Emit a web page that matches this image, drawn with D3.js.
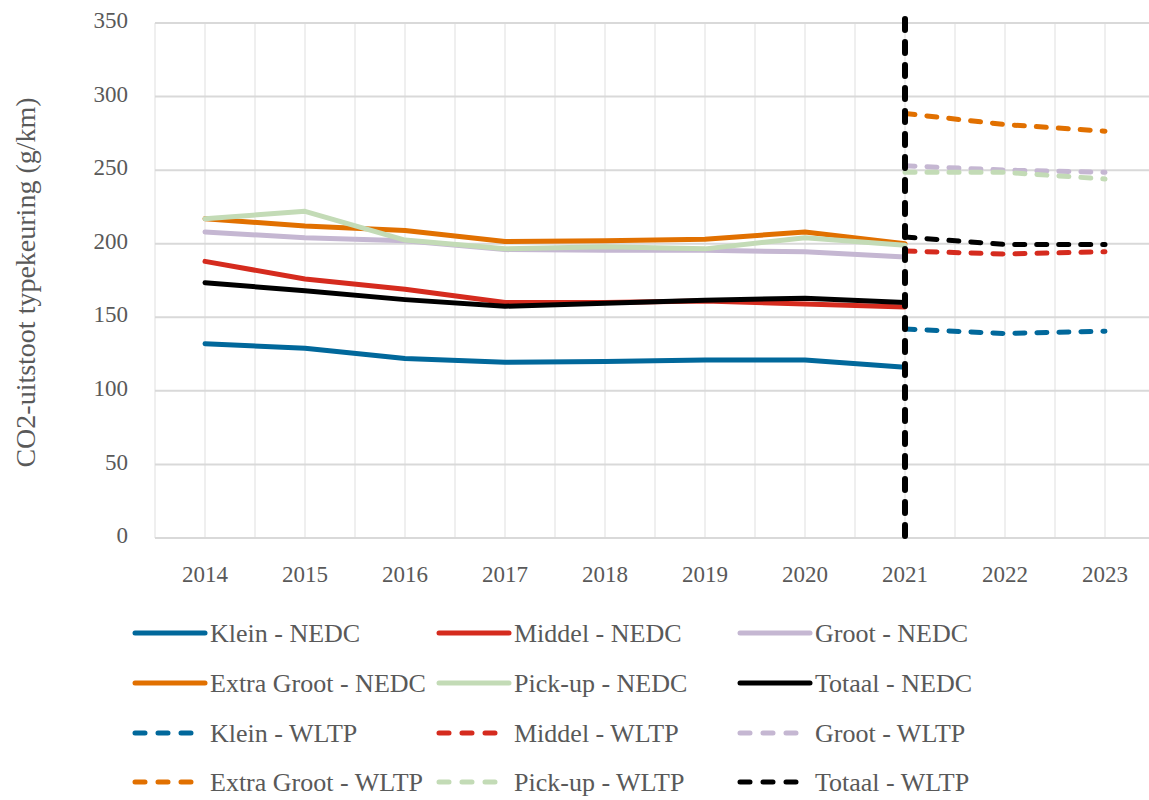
<!DOCTYPE html>
<html>
<head>
<meta charset="utf-8">
<script src="https://cdn.jsdelivr.net/npm/d3@7"></script>
<style>
  body { margin: 0; background: #fff; }
  text { font-family: "Liberation Serif", "DejaVu Serif", serif; fill: #595959; }
</style>
</head>
<body>
<svg width="1149" height="800"></svg>
<script>
// data
var years = ["2014","2015","2016","2017","2018","2019","2020","2021","2022","2023"];
var nedcYears = ["2014","2015","2016","2017","2018","2019","2020","2021"];
var wltpYears = ["2021","2022","2023"];

var kleinNEDC      = [132, 129, 122, 119.5, 120, 121, 121, 116];
var middelNEDC     = [188, 176, 169, 160, 160, 161, 159, 157];
var grootNEDC      = [208, 204, 202, 196, 195.5, 195.5, 194.5, 191];
var extraGrootNEDC = [217, 212, 209, 201.5, 202, 203, 208, 200];
var pickupNEDC     = [217, 222, 202.5, 196.5, 198, 196.5, 204, 199];
var totaalNEDC     = [173.5, 168, 162, 157.5, 159.5, 161.5, 163, 160];

var kleinWLTP      = [142, 139, 140.5];
var middelWLTP     = [195, 193, 194.5];
var grootWLTP      = [253, 250, 248.5];
var extraGrootWLTP = [288.5, 281, 276.5];
var pickupWLTP     = [248.5, 248.5, 244];
var totaalWLTP     = [204.5, 199.5, 199.5];

var yTicks = [0, 50, 100, 150, 200, 250, 300, 350];

var series = [
  {name: "Klein - NEDC", x: nedcYears, v: kleinNEDC, color: "#01689b", dash: false},
  {name: "Middel - NEDC", x: nedcYears, v: middelNEDC, color: "#d52b1e", dash: false},
  {name: "Groot - NEDC", x: nedcYears, v: grootNEDC, color: "#c5b7d2", dash: false},
  {name: "Extra Groot - NEDC", x: nedcYears, v: extraGrootNEDC, color: "#e17000", dash: false},
  {name: "Pick-up - NEDC", x: nedcYears, v: pickupNEDC, color: "#c3dbb6", dash: false},
  {name: "Totaal - NEDC", x: nedcYears, v: totaalNEDC, color: "#000000", dash: false},
  {name: "Klein - WLTP", x: wltpYears, v: kleinWLTP, color: "#01689b", dash: true},
  {name: "Middel - WLTP", x: wltpYears, v: middelWLTP, color: "#d52b1e", dash: true},
  {name: "Groot - WLTP", x: wltpYears, v: grootWLTP, color: "#c5b7d2", dash: true},
  {name: "Extra Groot - WLTP", x: wltpYears, v: extraGrootWLTP, color: "#e17000", dash: true},
  {name: "Pick-up - WLTP", x: wltpYears, v: pickupWLTP, color: "#c3dbb6", dash: true},
  {name: "Totaal - WLTP", x: wltpYears, v: totaalWLTP, color: "#000000", dash: true}
];

var svg = d3.select("svg");
var plotLeft = 155, plotRight = 1155, plotTop = 23, plotBottom = 538;

var x = d3.scaleBand().domain(years).range([plotLeft, plotRight]);
var y = d3.scaleLinear().domain([0, 350]).range([plotBottom, plotTop]);
var cx = function(d) { return x(d) + x.bandwidth() / 2; };

// vertical gridlines (category centres and boundaries)
var vlines = [];
years.forEach(function(d) { vlines.push(x(d)); vlines.push(cx(d)); });
svg.append("g").selectAll("line").data(vlines).enter().append("line")
  .attr("x1", function(d) { return d; }).attr("x2", function(d) { return d; })
  .attr("y1", plotTop).attr("y2", plotBottom)
  .attr("stroke", "#efefef").attr("stroke-width", 2);

// horizontal gridlines
svg.append("g").selectAll("line").data(yTicks).enter().append("line")
  .attr("x1", plotLeft).attr("x2", 1149)
  .attr("y1", function(d) { return y(d); }).attr("y2", function(d) { return y(d); })
  .attr("stroke", "#d9d9d9").attr("stroke-width", 2);

// y axis labels
var yAxis = svg.append("g").attr("transform", "translate(" + (plotLeft - 27) + ",0)")
  .call(d3.axisLeft(y).tickValues(yTicks).tickSize(0).tickPadding(0));
yAxis.select(".domain").remove();
yAxis.selectAll("text").attr("font-size", 23).attr("fill", "#595959")
  .attr("dy", "0.2em")
  .style("font-family", "'Liberation Serif', serif");

// x axis labels
var xAxis = svg.append("g").attr("transform", "translate(0," + plotBottom + ")")
  .call(d3.axisBottom(x).tickSize(0).tickPadding(28));
xAxis.select(".domain").remove();
xAxis.selectAll("text").attr("font-size", 23).attr("fill", "#595959")
  .style("font-family", "'Liberation Serif', serif");

// y title
svg.append("text")
  .attr("transform", "translate(35," + ((plotTop + plotBottom) / 2 + 2) + ") rotate(-90)")
  .attr("text-anchor", "middle")
  .attr("font-size", 28)
  .text("CO2-uitstoot typekeuring (g/km)");

var line = d3.line()
  .x(function(d) { return cx(d[0]); })
  .y(function(d) { return y(d[1]); });

series.forEach(function(s) {
  svg.append("path")
    .datum(s.x.map(function(k, i) { return [k, s.v[i]]; }))
    .attr("d", line)
    .attr("fill", "none")
    .attr("stroke", s.color)
    .attr("stroke-width", 5)
    .attr("stroke-linecap", "round")
    .attr("stroke-linejoin", "round")
    .attr("stroke-dasharray", s.dash ? "10,12" : null);
});

// vertical marker at 2021
svg.append("line")
  .attr("x1", cx("2021")).attr("x2", cx("2021"))
  .attr("y1", plotTop - 4).attr("y2", plotBottom + 3)
  .attr("stroke", "#000").attr("stroke-width", 6)
  .attr("stroke-linecap", "round")
  .attr("stroke-dasharray", "11,12");

// legend
var colX = [133, 437, 738];
var rowY = [633, 683, 733, 782];
var leg = svg.append("g").selectAll("g").data(series).enter().append("g")
  .attr("transform", function(d, i) {
    return "translate(" + colX[i % 3] + "," + rowY[Math.floor(i / 3)] + ")";
  });
leg.append("line")
  .attr("x1", 2).attr("x2", function(d) { return d.dash ? 64 : 72; })
  .attr("y1", 0).attr("y2", 0)
  .attr("stroke", function(d) { return d.color; })
  .attr("stroke-width", 5)
  .attr("stroke-linecap", "round")
  .attr("stroke-dasharray", function(d) { return d.dash ? "10,13" : null; });
leg.append("text")
  .attr("x", 77).attr("y", 9)
  .attr("font-size", 26)
  .text(function(d) { return d.name; });
</script>
</body>
</html>
